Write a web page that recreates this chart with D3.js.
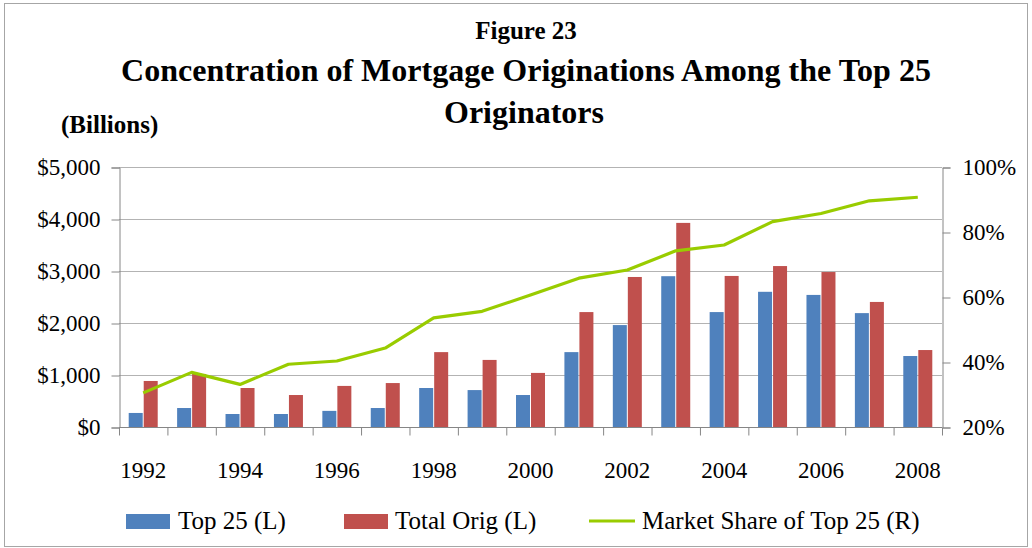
<!DOCTYPE html>
<html>
<head>
    <meta charset="UTF-8">
    <title>Figure 23</title>
    <script src="https://cdn.jsdelivr.net/npm/d3@7"></script>
    <style>
        body { margin: 0; background: #fff; }
        svg { display: block; font-family: "Liberation Serif", "Times New Roman", serif; }
    </style>
</head>
<body>
<svg id="chart" width="1032" height="548"></svg>
<script>
    // Data
    var years = [1992, 1993, 1994, 1995, 1996, 1997, 1998, 1999, 2000,
                 2001, 2002, 2003, 2004, 2005, 2006, 2007, 2008];
    var top25 = [270, 365, 250, 250, 310, 365, 750, 710, 615,
                 1440, 1960, 2900, 2210, 2600, 2540, 2190, 1365];
    var totalOrig = [885, 1020, 750, 615, 790, 845, 1440, 1290, 1040,
                     2210, 2885, 3925, 2905, 3095, 2980, 2405, 1480];
    var marketShare = [30.5, 36.8, 33.1, 39.3, 40.3, 44.3, 53.6, 55.6, 60.6,
                       65.8, 68.3, 74.2, 76.0, 83.2, 85.7, 89.6, 90.7];
    var leftTicks = [0, 1000, 2000, 3000, 4000, 5000];
    var rightTicks = [20, 40, 60, 80, 100];

    (function () {
        var svg = d3.select("#chart");
        var plotL = 119, plotR = 942, plotT = 167, plotB = 427;
        var tickFont = 23;

        // outer frame
        svg.append("rect")
            .attr("x", 4.5).attr("y", 3.5)
            .attr("width", 1023).attr("height", 543)
            .attr("fill", "none").attr("stroke", "#a6a6a6");

        // titles
        svg.append("text").attr("x", 526).attr("y", 39)
            .attr("text-anchor", "middle").attr("font-weight", "bold")
            .attr("font-size", 25).text("Figure 23");
        svg.append("text").attr("x", 526).attr("y", 81)
            .attr("text-anchor", "middle").attr("font-weight", "bold")
            .attr("font-size", 32).text("Concentration of Mortgage Originations Among the Top 25");
        svg.append("text").attr("x", 524).attr("y", 123)
            .attr("text-anchor", "middle").attr("font-weight", "bold")
            .attr("font-size", 32).text("Originators");
        svg.append("text").attr("x", 61).attr("y", 133)
            .attr("font-weight", "bold").attr("font-size", 25).text("(Billions)");

        var x = d3.scaleBand().domain(years).range([plotL, plotR]);
        var y = d3.scaleLinear().domain([0, 5000]).range([plotB, plotT]);
        var y2 = d3.scaleLinear().domain([20, 100]).range([plotB, plotT]);

        // gridlines
        svg.append("g").selectAll("line").data(leftTicks.slice(1)).join("line")
            .attr("x1", plotL).attr("x2", plotR)
            .attr("y1", function (d) { return y(d) + 0.5; })
            .attr("y2", function (d) { return y(d) + 0.5; })
            .attr("stroke", "#b3b3b3").attr("stroke-width", 1);

        // left axis
        var yAxis = d3.axisLeft(y).tickValues(leftTicks).tickSize(8)
            .tickFormat(function (d) { return "$" + d3.format(",")(d); });
        var gy = svg.append("g").attr("transform", "translate(" + (plotL + 0.5) + ",0.5)").call(yAxis);
        gy.selectAll("text").attr("font-size", tickFont).attr("font-family", "Liberation Serif")
            .attr("fill", "#000").attr("x", -19);

        // right axis
        var y2Axis = d3.axisRight(y2).tickValues(rightTicks).tickSize(8)
            .tickFormat(function (d) { return d + "%"; });
        var gy2 = svg.append("g").attr("transform", "translate(" + (plotR + 0.5) + ",0.5)").call(y2Axis);
        gy2.selectAll("text").attr("font-size", tickFont).attr("font-family", "Liberation Serif")
            .attr("fill", "#000").attr("x", 20);

        // bottom axis: ticks at category boundaries
        var xAxis = d3.axisBottom(x).tickSize(0)
            .tickFormat(function (d) { return d % 2 === 0 ? d : ""; });
        var gx = svg.append("g").attr("transform", "translate(0," + (plotB + 0.5) + ")").call(xAxis);
        gx.selectAll("text").attr("font-size", tickFont).attr("font-family", "Liberation Serif")
            .attr("fill", "#000").attr("dy", 0).attr("y", 50);
        gx.append("g").selectAll("line").data(years.concat([null])).join("line")
            .attr("x1", function (d, i) { return plotL + i * x.bandwidth() + 0.5; })
            .attr("x2", function (d, i) { return plotL + i * x.bandwidth() + 0.5; })
            .attr("y1", 0).attr("y2", 8);

        [gy, gy2, gx].forEach(function (g) {
            g.selectAll(".domain").attr("stroke", "#868686");
            g.selectAll("line").attr("stroke", "#868686");
        });
        gx.select(".domain").attr("d", "M" + plotL + ",0H" + plotR);

        // bars
        var barW = 14;
        var bars = svg.append("g");
        bars.selectAll("rect.top").data(years).join("rect")
            .attr("class", "top")
            .attr("x", function (d) { return x(d) + x.bandwidth() / 2 - barW - 0.5; })
            .attr("y", function (d, i) { return y(top25[i]); })
            .attr("width", barW)
            .attr("height", function (d, i) { return plotB - y(top25[i]); })
            .attr("fill", "#4f81bd");
        bars.selectAll("rect.total").data(years).join("rect")
            .attr("class", "total")
            .attr("x", function (d) { return x(d) + x.bandwidth() / 2 + 0.5; })
            .attr("y", function (d, i) { return y(totalOrig[i]); })
            .attr("width", barW)
            .attr("height", function (d, i) { return plotB - y(totalOrig[i]); })
            .attr("fill", "#c0504d");

        // market share line
        var line = d3.line()
            .x(function (d, i) { return x(years[i]) + x.bandwidth() / 2; })
            .y(function (d) { return y2(d); });
        svg.append("path").datum(marketShare)
            .attr("d", line)
            .attr("fill", "none").attr("stroke", "#99cc00")
            .attr("stroke-width", 3.2).attr("stroke-linejoin", "round");

        // legend
        var lg = svg.append("g").attr("font-size", 25);
        lg.append("rect").attr("x", 126).attr("y", 514).attr("width", 44).attr("height", 15).attr("fill", "#4f81bd");
        lg.append("text").attr("x", 178).attr("y", 529).text("Top 25 (L)");
        lg.append("rect").attr("x", 344).attr("y", 514).attr("width", 44).attr("height", 15).attr("fill", "#c0504d");
        lg.append("text").attr("x", 395).attr("y", 529).text("Total Orig (L)");
        lg.append("line").attr("x1", 589).attr("x2", 635).attr("y1", 521).attr("y2", 521)
            .attr("stroke", "#99cc00").attr("stroke-width", 3.2);
        lg.append("text").attr("x", 642).attr("y", 529).text("Market Share of Top 25 (R)");
    })();
</script>
</body>
</html>
